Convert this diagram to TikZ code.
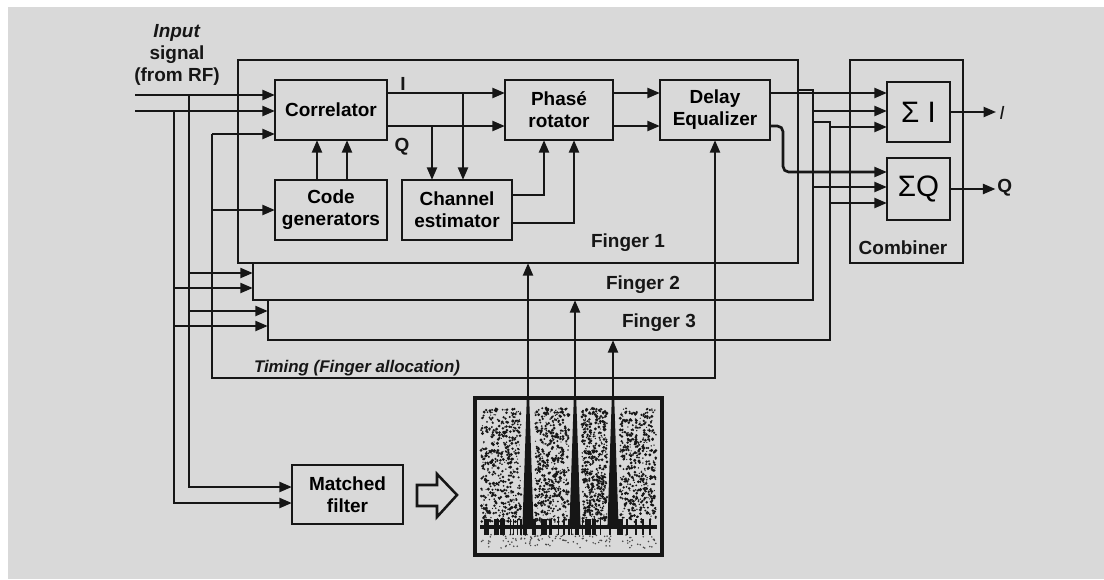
\documentclass[tikz,border=0pt]{standalone}
\usepackage{fontspec}
\setmainfont{Liberation Sans}
\usepackage{tikz}
\usetikzlibrary{arrows.meta,positioning,calc}
\definecolor{rxpaper}{HTML}{D9D9D9}
\definecolor{rxink}{HTML}{161616}
\tikzset{
  rxblock/.style={
    draw=rxink, fill=rxpaper, line width=2pt,
    inner sep=0pt, outer sep=0pt, align=center,
    font=\fontsize{13.5}{15.6}\selectfont\bfseries
  },
  rxfinger/.style={draw=rxink, fill=rxpaper, line width=2pt, inner sep=0pt, outer sep=0pt},
  rxsum/.style={rxblock, font=\fontsize{21}{24}\selectfont},
  rxedge/.style={-{Triangle[length=9pt,width=7pt]}, draw=rxink, line width=1.9pt},
  rxlabel/.style={font=\fontsize{13.5}{15.6}\selectfont\bfseries, text=rxink, inner sep=0pt, align=center},
  rxnote/.style={font=\fontsize{12}{14}\selectfont\bfseries\itshape, text=rxink, inner sep=0pt}
}

\begin{document}
\begin{tikzpicture}[x=0.025cm,y=-0.025cm]
  \useasboundingbox (0,0) rectangle (1104,579);
  \fill[white] (0,0) rectangle (1104,579);
  \fill[rxpaper] (8,7) rectangle (1104,579);

  % Fingers, back to front
  \node[rxfinger, minimum width=14.05cm, minimum height=5.45cm] (fing3) at (549,231) {};
  \node[rxfinger, minimum width=14cm, minimum height=5.25cm] (fing2) at (533,195) {};
  \node[rxfinger, minimum width=14cm, minimum height=5.075cm] (fing1) at (518,161.5) {};
  \node[rxfinger, minimum width=2.825cm, minimum height=5.075cm] (comb) at (906.5,161.5) {};

  % Blocks of finger 1
  \node[rxblock, minimum width=2.8cm, minimum height=1.5cm] (corr) at (331,110) {Correlator};
  \node[rxblock, minimum width=2.8cm, minimum height=1.5cm] (codegen) at (331,210) {Code\\generators};
  \node[rxblock, minimum width=2.75cm, minimum height=1.5cm] (chest) at (457,210) {Channel\\estimator};
  \node[rxblock, minimum width=2.7cm, minimum height=1.5cm] (phrot) at (559,110) {Phasé\\rotator};
  \node[rxblock, minimum width=2.75cm, minimum height=1.5cm] (deleq) at (715,110) {Delay\\Equalizer};
  \node[rxsum, minimum width=1.575cm, minimum height=1.5cm] (sumI) at (918.5,112) {Σ I};
  \node[rxsum, minimum width=1.575cm, minimum height=1.55cm] (sumQ) at (918.5,189) {ΣQ};
  \node[rxblock, minimum width=2.775cm, minimum height=1.475cm] (mfilt) at (347.5,494.5) {Matched\\filter};
  \node[rxfinger, line width=2.2pt, minimum width=4.675cm, minimum height=3.925cm] (spec) at (568.5,476.5) {};

  % Labels
  \node[rxlabel] (inlbl) at (177,55) {\textit{Input}\\signal\\(from RF)};
  \node[rxlabel] (lblI) at (403,84) {I};
  \node[rxlabel] (lblQ) at (402,147) {Q};
  \node[rxlabel] (f1lbl) at (628,243) {Finger 1};
  \node[rxlabel] (f2lbl) at (643,285) {Finger 2};
  \node[rxlabel] (f3lbl) at (659,323) {Finger 3};
  \node[rxlabel] (comblbl) at (903,248) {Combiner};
  \node[rxnote] (timlbl) at (357,368) {Timing (Finger allocation)};
  \node[rxlabel, font=\fontsize{13.5}{15.6}\selectfont\itshape, anchor=west] (outI) at (999,113) {I};
  \node[rxlabel, anchor=west] (outQ) at (997,188) {Q};

  % Input signal
  \coordinate (rfI) at (135,95);
  \coordinate (rfQ) at (135,111);
  \coordinate (tapI) at (189,95);
  \coordinate (tapQ) at (174,111);
  \draw[rxedge] (rfI) -- (rfI -| corr.west);
  \draw[rxedge] (rfQ) -- (rfQ -| corr.west);
  \draw[rxedge] (tapI) |- ([yshift=0.1875cm]mfilt.west);
  \draw[rxedge] (tapQ) |- ([yshift=-0.2125cm]mfilt.west);
  \draw[rxedge] (tapI |- 0,273) -- (fing2.west |- 0,273);
  \draw[rxedge] (tapQ |- 0,288) -- (fing2.west |- 0,288);
  \draw[rxedge] (tapI |- 0,311) -- (fing3.west |- 0,311);
  \draw[rxedge] (tapQ |- 0,326) -- (fing3.west |- 0,326);

  % Timing
  \coordinate (tim) at (212,134);
  \coordinate (timc) at (deleq.south |- 0,378);
  \draw[rxedge] (tim) -- (tim -| corr.west);
  \draw[rxedge] (tim |- codegen.west) -- (codegen.west);
  \draw[rxedge] (tim) |- (timc) -- (deleq.south);

  % Inside finger 1
  \coordinate (cI) at ([yshift=0.425cm]corr.east);
  \coordinate (cQ) at ([yshift=-0.4cm]corr.east);
  \draw[rxedge] ([xshift=-0.35cm]codegen.north) -- ([xshift=-0.35cm]corr.south);
  \draw[rxedge] ([xshift=0.4cm]codegen.north) -- ([xshift=0.4cm]corr.south);
  \draw[rxedge] (cI) -- (cI -| phrot.west);
  \draw[rxedge] (cQ) -- (cQ -| phrot.west);
  \draw[rxedge] (cQ -| 432,0) -- (chest.north -| 432,0);
  \draw[rxedge] (cI -| 463,0) -- (chest.north -| 463,0);
  \draw[rxedge] ([yshift=0.375cm]chest.east) -| (phrot.south -| 544,0);
  \draw[rxedge] ([yshift=-0.325cm]chest.east) -| (phrot.south -| 574,0);
  \draw[rxedge] (cI -| phrot.east) -- (cI -| deleq.west);
  \draw[rxedge] (cQ -| phrot.east) -- (cQ -| deleq.west);

  % To the combiner
  \coordinate (dq) at (783,172);
  \draw[rxedge] (cI -| deleq.east) -- (cI -| sumI.west);
  \draw[rxedge, rounded corners=4pt] (cQ -| deleq.east) -| (dq) -- (dq -| sumQ.west);
  \draw[rxedge] (fing2.east |- 0,111) -- (sumI.west |- 0,111);
  \draw[rxedge] (fing2.east |- 0,187) -- (sumQ.west |- 0,187);
  \draw[rxedge] (fing3.east |- 0,127) -- (sumI.west |- 0,127);
  \draw[rxedge] (fing3.east |- 0,203) -- (sumQ.west |- 0,203);
  \draw[rxedge] (sumI.east) -- ([xshift=-2pt]outI.west |- sumI.east);
  \draw[rxedge] (sumQ.east) -- ([xshift=-1pt]outQ.west |- sumQ.east);

  % Matched filter output
  \draw[rxink, line width=1.8pt, fill=rxpaper, line join=miter]
    (417,485) -- (437,485) -- (437,474) -- (457,495) -- (437,517) -- (437,506) -- (417,506) -- cycle;

  % Spectrum
  \pgfmathsetseed{5}
  \foreach \xa/\xb in {481/521,535/569,582/607,620/656}{
    \foreach \k in {1,...,480}{
      \pgfmathsetmacro{\nx}{\xa+rnd*(\xb-\xa)}
      \pgfmathsetmacro{\ny}{408+rnd*114}
      \pgfmathsetmacro{\nr}{0.4+0.8*rnd}
      \fill[rxink] (\nx,\ny) circle (\nr pt);
    }
  }
  \foreach \k in {1,...,120}{
    \pgfmathsetmacro{\nx}{481+rnd*175}
    \pgfmathsetmacro{\ny}{534+rnd*14}
    \fill[rxink!80] (\nx,\ny) circle (0.6pt);
  }
  \foreach \k in {1,...,50}{
    \pgfmathsetmacro{\nx}{481+rnd*175}
    \draw[rxink, line width=1.2pt] (\nx,519) -- (\nx,535);
  }
  \draw[rxink, line width=3.5pt] (480,527) -- (657,527);
  \coordinate (pk1) at (528,527);
  \coordinate (pk2) at (575,527);
  \coordinate (pk3) at (613,527);
  \foreach \p in {pk1,pk2,pk3}{
    \fill[rxink] ([xshift=-0.14cm]\p) -- ([xshift=-0.03cm]\p |- spec.north) -- ([xshift=0.03cm]\p |- spec.north) -- ([xshift=0.14cm]\p) -- cycle;
  }
  \draw[rxedge] (pk1) -- (pk1 |- fing1.south);
  \draw[rxedge] (pk2) -- (pk2 |- fing2.south);
  \draw[rxedge] (pk3) -- (pk3 |- fing3.south);
\end{tikzpicture}
\end{document}
